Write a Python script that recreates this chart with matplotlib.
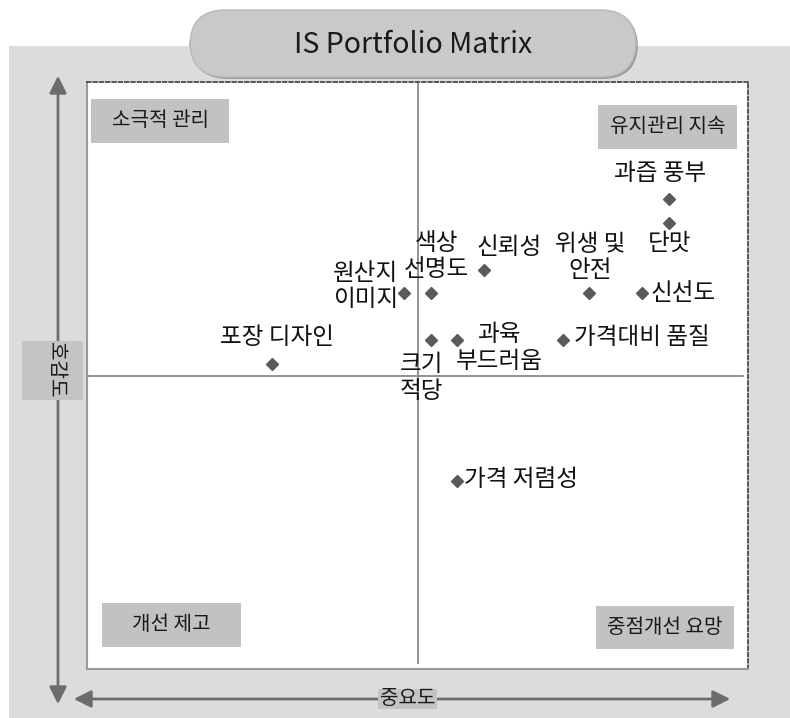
import matplotlib
matplotlib.use('Agg')
import matplotlib.pyplot as plt
from matplotlib.patches import Rectangle, FancyBboxPatch, FancyArrowPatch

plt.rcParams['font.family'] = ['Noto Sans CJK KR', 'DejaVu Sans']

# Data: importance (x) and preference (y), 0-100 scale, midpoint 50
items = ['과즙 풍부', '단맛', '신선도', '위생 및\n안전', '신뢰성', '색상\n선명도',
         '원산지\n이미지', '포장 디자인', '크기\n적당', '과육\n부드러움',
         '가격대비 품질', '가격 저렴성']
importance = [88, 88, 84, 76, 60, 52, 48, 28, 52, 56, 72, 56]
preference = [80, 76, 64, 64, 68, 64, 64, 52, 56, 56, 56, 32]

quadrants = ['소극적 관리', '유지관리 지속', '개선 제고', '중점개선 요망']
title = 'IS Portfolio Matrix'
xlabel = '중요도'
ylabel = '호감도'

# label placement (offset in pixels, alignment)
label_pos = {
    '과즙 풍부': ((-9, 26), 'center'),
    '단맛': ((1, -21), 'center'),
    '신선도': ((8, 0), 'left'),
    '위생 및\n안전': ((1, 36), 'center'),
    '신뢰성': ((26, 22), 'center'),
    '색상\n선명도': ((6, 37), 'center'),
    '원산지\n이미지': ((-6, 7), 'right'),
    '포장 디자인': ((5, 26), 'center'),
    '크기\n적당': ((-9, -38), 'center'),
    '과육\n부드러움': ((42, -8), 'center'),
    '가격대비 품질': ((11, 3), 'left'),
    '가격 저렴성': ((7, 2), 'left'),
}

W, H = 790, 718
fig = plt.figure(figsize=(W / 100, H / 100), dpi=100)


def fx(px):
    return px / W


def fy(py):
    return 1 - py / H


# gray background panel
fig.patches.append(Rectangle((fx(9), 0), fx(790) - fx(9), fy(46), transform=fig.transFigure,
                             facecolor='#dcdcdc', edgecolor='none', zorder=-5))

# main plot box
L, R, T, B = 87, 748, 82, 669
ax = fig.add_axes([fx(L), fy(B), fx(R) - fx(L), fy(T) - fy(B)])
ax.set_xlim(0, 100)
ax.set_ylim(0, 100)
ax.set_xticks([])
ax.set_yticks([])
ax.set_facecolor('white')
for s in ['left', 'bottom']:
    ax.spines[s].set_color('#9a9a9a')
    ax.spines[s].set_linewidth(1.5)
for s in ['top', 'right']:
    ax.spines[s].set_color('#4a4a4a')
    ax.spines[s].set_linewidth(1.3)
    ax.spines[s].set_linestyle((0, (2, 1.5)))

# quadrant dividers
ax.plot([50, 50], [1, 100], color='#8a8a8a', lw=1.3, zorder=1)
ax.plot([0, 99.3], [50, 50], color='#8a8a8a', lw=1.3, zorder=1)


def axx(px):
    return (px - L) / (R - L)


def axy(py):
    return (B - py) / (B - T)


# quadrant label boxes (pixel boxes: x0, x1, y0, y1)
qboxes = [(91, 229, 99, 143), (598, 737, 105, 149), (102, 241, 603, 647), (596, 734, 606, 649)]
for name, (x0, x1, y0, y1) in zip(quadrants, qboxes):
    ax.add_patch(Rectangle((axx(x0), axy(y1)), axx(x1) - axx(x0), axy(y0) - axy(y1),
                           transform=ax.transAxes, facecolor='#c2c2c2', edgecolor='none', zorder=2))
    ax.text(axx((x0 + x1) / 2), axy((y0 + y1) / 2), name, transform=ax.transAxes,
            ha='center', va='center', fontsize=14.5, color='#1a1a1a', zorder=3)

# points
ax.plot(importance, preference, linestyle='none', marker='D', markersize=6.5,
        color='#5a5a5a', zorder=4)
for name, x, y in zip(items, importance, preference):
    (dx, dy), ha = label_pos[name]
    ax.annotate(name, (x, y), xytext=(dx, dy), textcoords='offset pixels',
                ha=ha, va='center', fontsize=17, color='#111111',
                linespacing=1.2, zorder=5)

# title pill with shadow
px0, px1, py0, py1 = 190, 636, 10, 77
fig.patches.append(FancyBboxPatch((fx(px0 + 2), fy(py1 + 2)), fx(px1) - fx(px0), fy(py0) - fy(py1),
                                  boxstyle='round,pad=0,rounding_size=0.045', mutation_aspect=W / H,
                                  transform=fig.transFigure, facecolor='#9c9c9c',
                                  edgecolor='none', zorder=5))
fig.patches.append(FancyBboxPatch((fx(px0), fy(py1)), fx(px1) - fx(px0), fy(py0) - fy(py1),
                                  boxstyle='round,pad=0,rounding_size=0.045', mutation_aspect=W / H,
                                  transform=fig.transFigure, facecolor='#c9c9c9',
                                  edgecolor='#b8b8b8', lw=1, zorder=6))
fig.text(fx(413), fy(45), title, ha='center', va='center', fontsize=20.5, color='#1a1a1a', zorder=7)

# axis arrows
arrow_style = '<|-|>,head_length=0.8,head_width=0.4'
fig.patches.append(FancyArrowPatch((fx(58), fy(73)), (fx(58), fy(707)), arrowstyle=arrow_style,
                                   mutation_scale=13, color='#6c6c6c', lw=2,
                                   transform=fig.transFigure, zorder=3))
fig.patches.append(FancyArrowPatch((fx(71), fy(699)), (fx(733), fy(699)), arrowstyle=arrow_style,
                                   mutation_scale=13, color='#6c6c6c', lw=2,
                                   transform=fig.transFigure, zorder=3))

# axis label boxes
fig.patches.append(Rectangle((fx(22), fy(400)), fx(83) - fx(22), fy(341) - fy(400),
                             transform=fig.transFigure, facecolor='#c4c4c4', edgecolor='none', zorder=4))
fig.text(fx(55), fy(370), ylabel, rotation=-90, ha='center', va='center', fontsize=14.5,
         color='#1a1a1a', zorder=5)
fig.patches.append(Rectangle((fx(378), fy(709)), fx(437) - fx(378), fy(689) - fy(709),
                             transform=fig.transFigure, facecolor='#c4c4c4', edgecolor='none', zorder=4))
fig.text(fx(408), fy(699), xlabel, ha='center', va='center', fontsize=14.5, color='#1a1a1a', zorder=5)

fig.savefig('out.png', dpi=100)
